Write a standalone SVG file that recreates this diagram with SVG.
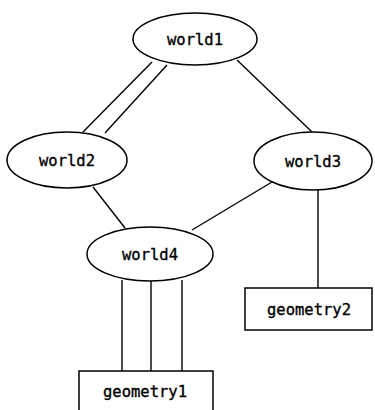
<svg xmlns="http://www.w3.org/2000/svg" width="375" height="410" viewBox="0 0 375 410">
<style>
.n{fill:#fff;stroke:#000;stroke-width:1.5}
.t{font-family:"DejaVu Sans Mono","Liberation Mono",monospace;font-size:15.5px;text-anchor:middle;fill:#000;stroke:#000;stroke-width:0.35}
.c line{stroke:#000;stroke-width:1.4}
</style>
<rect width="375" height="410" fill="#fff"/>
<g class="c" id="connectors">
<line x1="152" y1="62" x2="83" y2="132"/>
<line x1="167" y1="65" x2="105" y2="133"/>
<line x1="237" y1="60" x2="312" y2="132"/>
<line x1="93" y1="187" x2="125" y2="228"/>
<line x1="272" y1="182" x2="192" y2="230"/>
<line x1="122" y1="280" x2="122" y2="371"/>
<line x1="151" y1="281" x2="151" y2="371"/>
<line x1="182" y1="280" x2="182" y2="371"/>
<line x1="318" y1="190" x2="318" y2="288"/>
</g>
<g id="world1"><ellipse class="n" cx="195" cy="39" rx="62" ry="26"/><text class="t" x="195" y="45">world1</text></g>
<g id="world2"><ellipse class="n" cx="67" cy="160" rx="60" ry="28"/><text class="t" x="67" y="166">world2</text></g>
<g id="world3"><ellipse class="n" cx="313" cy="161" rx="59" ry="29"/><text class="t" x="313" y="167">world3</text></g>
<g id="world4"><ellipse class="n" cx="150" cy="254" rx="63" ry="27"/><text class="t" x="150" y="260">world4</text></g>
<g id="geometry1"><rect class="n" x="79" y="371" width="134" height="45"/><text class="t" x="145" y="397">geometry1</text></g>
<g id="geometry2"><rect class="n" x="245" y="288" width="127" height="42"/><text class="t" x="309" y="315">geometry2</text></g>
</svg>
